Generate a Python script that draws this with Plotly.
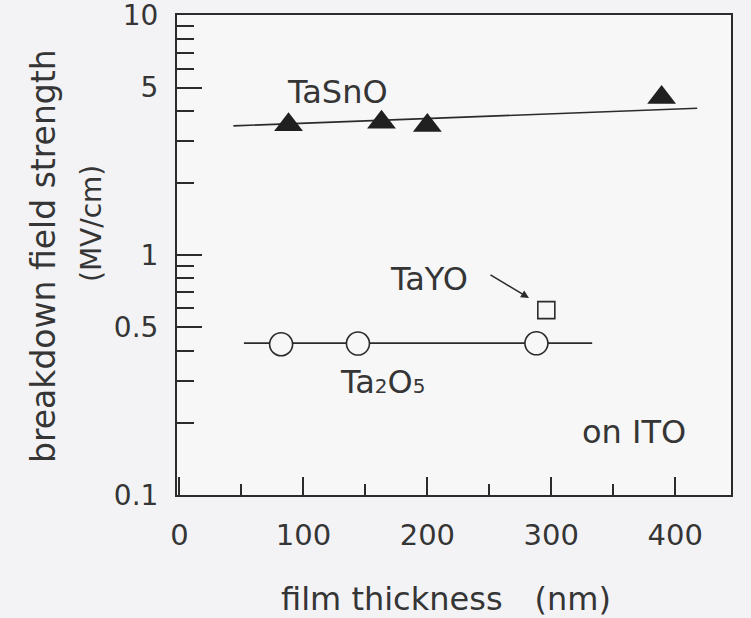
import numpy as np
import plotly.graph_objects as go

# ---- data ----
tasno_thickness = [88, 163, 200, 389]          # nm
tasno_field = [3.50, 3.58, 3.47, 4.55]         # MV/cm
tasno_fit_thickness = [43.5, 417.7]
tasno_fit_field = [3.46, 4.10]

ta2o5_thickness = [82, 144, 288]
ta2o5_field = [0.425, 0.428, 0.429]
ta2o5_fit_thickness = [52, 333]
ta2o5_fit_field = [0.430, 0.430]

tayo_thickness = [296]
tayo_field = [0.59]

x_tickvals = [0, 100, 200, 300, 400]
x_minor_tickvals = [50, 150, 250, 350]
y_tickvals = [0.1, 0.5, 1, 5, 10]
y_ticktext = ["0.1", "0.5", "1", "5", "10"]
y_minor_tickvals = [0.2, 0.3, 0.4, 0.6, 0.7, 0.8, 0.9, 2, 3, 4, 6, 7, 8, 9]

FONT = "DejaVu Sans"
INK = "#2b2b2b"
TXT = "#353535"
PAPER = "#f3f3f5"
PLOT = "#f7f7f8"

fig = go.Figure()

fig.add_trace(go.Scatter(x=tasno_fit_thickness, y=tasno_fit_field, mode="lines",
                         line=dict(color=INK, width=1.6), hoverinfo="skip"))
fig.add_trace(go.Scatter(x=ta2o5_fit_thickness, y=ta2o5_fit_field, mode="lines",
                         line=dict(color=INK, width=1.6), hoverinfo="skip"))
fig.add_trace(go.Scatter(x=tasno_thickness, y=tasno_field, mode="markers", name="TaSnO",
                         marker=dict(symbol="triangle-up", size=25, color="#202020",
                                     line=dict(width=0))))
fig.add_trace(go.Scatter(x=ta2o5_thickness, y=ta2o5_field, mode="markers", name="Ta2O5",
                         marker=dict(symbol="circle", size=23, color=PLOT,
                                     line=dict(color=INK, width=1.6))))
fig.add_trace(go.Scatter(x=tayo_thickness, y=tayo_field, mode="markers", name="TaYO",
                         marker=dict(symbol="square", size=17, color=PLOT,
                                     line=dict(color=INK, width=1.6))))

axis_common = dict(showgrid=False, zeroline=False, linecolor=INK, linewidth=2,
                   mirror=True, ticks="inside", tickcolor=INK, tickwidth=2,
                   ticklabeloverflow="allow", automargin=False)

fig.update_xaxes(range=[-2, 445], tickmode="array", tickvals=x_tickvals,
                 ticklen=18, ticklabelstandoff=13,
                 tickfont=dict(family=FONT, size=29, color=TXT),
                 minor=dict(tickvals=x_minor_tickvals, ticks="inside", ticklen=11,
                            tickwidth=2, tickcolor=INK, showgrid=False),
                 **axis_common)
fig.update_yaxes(type="log", range=[-1, 1.0015], tickmode="array", tickvals=y_tickvals,
                 ticktext=y_ticktext, ticklen=25, ticklabelstandoff=11,
                 tickfont=dict(family=FONT, size=28, color=TXT),
                 minor=dict(tickvals=y_minor_tickvals, ticks="inside", ticklen=17,
                            tickwidth=2, tickcolor=INK, showgrid=False),
                 **axis_common)

def label(text, x, y, size=32, xref="x", yref="y", angle=0):
    return dict(text=text, x=x, y=y, xref=xref, yref=yref, showarrow=False,
                xanchor="center", yanchor="middle", textangle=angle,
                font=dict(family=FONT, size=size, color=TXT))

annotations = [
    label("TaSnO", 127.8, 0.679),
    label("TaYO", 201.1, -0.10),
    label('Ta<span style="font-size:20px">2</span>O<span style="font-size:20px">5</span>',
          164.3, -0.529),
    label("on ITO", 0.825, 0.131, xref="paper", yref="paper"),
    label("film thickness\u3000(nm)", 0.4856, -0.2167, xref="paper", yref="paper"),
    label("breakdown field strength", -0.240, 0.498, size=33, xref="paper", yref="paper", angle=-90),
    label("(MV/cm)", -0.1534, 0.5646, size=28, xref="paper", yref="paper", angle=-90),
    dict(x=282, y=np.log10(0.663), xref="x", yref="y", ax=-40, ay=-24,
         axref="pixel", ayref="pixel", showarrow=True, arrowhead=2, arrowsize=1,
         arrowwidth=1.6, arrowcolor=INK, text=""),
]

fig.update_layout(width=751, height=618, margin=dict(l=177, r=20, t=15, b=123),
                  paper_bgcolor=PAPER, plot_bgcolor=PLOT, showlegend=False,
                  annotations=annotations, font=dict(family=FONT, color=TXT))

fig.write_html("out.html")
